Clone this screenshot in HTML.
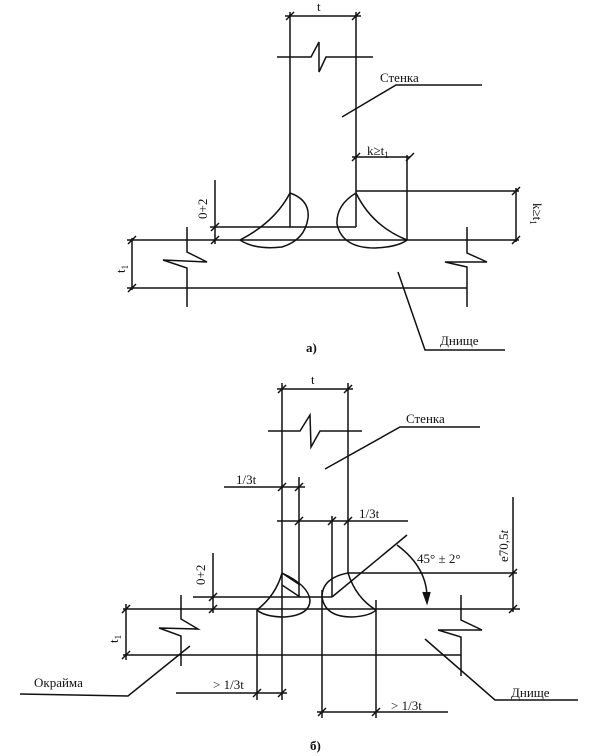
<!DOCTYPE html>
<html><head><meta charset="utf-8"><style>
html,body{margin:0;padding:0;background:#fff;}
svg{display:block;}
text{font-family:"Liberation Serif","DejaVu Serif",serif;fill:#111;font-size:13px;}
</style></head><body>
<svg width="601" height="756" viewBox="0 0 601 756" xmlns="http://www.w3.org/2000/svg">
<g stroke="#111" stroke-width="1.5" fill="none">
<!-- ===== a) ===== -->
<line x1="290" y1="12" x2="290" y2="227"/>
<line x1="356" y1="12" x2="356" y2="227"/>
<line x1="285" y1="16" x2="361" y2="16"/>
<line x1="286" y1="20" x2="294" y2="12"/><line x1="352" y1="20" x2="360" y2="12"/>
<path d="M277 57 H311 L319 42 L319 72 L326 57 H373"/>
<path d="M342 117 L396 85 H482"/>
<line x1="352" y1="157" x2="410" y2="157"/>
<line x1="352" y1="161" x2="360" y2="153"/><line x1="406" y1="161" x2="414" y2="153"/>
<line x1="407" y1="155" x2="407" y2="240"/>
<line x1="356" y1="191" x2="519" y2="191"/>
<line x1="516" y1="188" x2="516" y2="242"/>
<line x1="512" y1="195" x2="520" y2="187"/><line x1="512" y1="244" x2="520" y2="236"/>
<line x1="210" y1="227" x2="356" y2="227"/>
<line x1="127" y1="240" x2="519" y2="240"/>
<line x1="127" y1="288" x2="467" y2="288"/>
<line x1="215" y1="180" x2="215" y2="244"/>
<line x1="211" y1="231" x2="219" y2="223"/><line x1="211" y1="244" x2="219" y2="236"/>
<line x1="132" y1="238" x2="132" y2="290"/>
<line x1="128" y1="244" x2="136" y2="236"/><line x1="128" y1="292" x2="136" y2="284"/>
<path d="M290 193 Q275 222 240 240"/>
<path d="M290 193 Q310 200 308 218 Q305 240 282 247 Q255 250 240 240"/>
<path d="M356 193 Q372 226 407 240"/>
<path d="M356 193 Q336 205 337 224 Q342 248 375 248 Q398 247 407 240"/>
<path d="M187 227 V252 L207 262 L163 260 L187 268 V307"/>
<path d="M467 227 V253 L487 262 L445 262 L467 267 V307"/>
<path d="M398 272 L425 350 H505"/>

<!-- ===== б) ===== -->
<line x1="282" y1="383" x2="282" y2="700"/>
<line x1="348" y1="383" x2="348" y2="573"/>
<line x1="277" y1="389" x2="353" y2="389"/>
<line x1="278" y1="393" x2="286" y2="385"/><line x1="344" y1="393" x2="352" y2="385"/>
<path d="M268 431 H300 L310 415 L311 447 L320 431 H362"/>
<path d="M325 469 L400 427 H480"/>
<line x1="224" y1="487" x2="305" y2="487"/>
<line x1="278" y1="491" x2="286" y2="483"/><line x1="295" y1="491" x2="303" y2="483"/>
<line x1="299" y1="477" x2="299" y2="597"/>
<line x1="277" y1="521" x2="408" y2="521"/>
<line x1="295" y1="525" x2="303" y2="517"/><line x1="328" y1="525" x2="336" y2="517"/><line x1="344" y1="525" x2="352" y2="517"/>
<line x1="332" y1="516" x2="332" y2="597"/>
<line x1="193" y1="597" x2="332" y2="597"/>
<line x1="123" y1="609" x2="520" y2="609"/>
<line x1="123" y1="655" x2="461" y2="655"/>
<line x1="126" y1="604" x2="126" y2="660"/>
<line x1="122" y1="613" x2="130" y2="605"/><line x1="122" y1="659" x2="130" y2="651"/>
<line x1="213" y1="553" x2="213" y2="613"/>
<line x1="209" y1="601" x2="217" y2="593"/><line x1="209" y1="613" x2="217" y2="605"/>
<line x1="282" y1="573" x2="300" y2="585"/>
<line x1="282" y1="585" x2="300" y2="597"/>
<line x1="332" y1="597" x2="407" y2="535"/>
<line x1="348" y1="573" x2="517" y2="573"/>
<path d="M282 573 Q276 595 257 610"/>
<path d="M282 573 Q308 585 310 600 Q310 615 285 617 Q265 617 257 610"/>
<path d="M348 573 Q356 598 376 610"/>
<path d="M348 573 Q322 578 322 597 Q325 617 352 617 Q370 616 376 610"/>
<path d="M397 545 Q428 568 427 600"/>
<path d="M423 592 L427 603 L430 592" fill="#111"/>
<line x1="513" y1="497" x2="513" y2="612"/>
<line x1="509" y1="577" x2="517" y2="569"/><line x1="509" y1="613" x2="517" y2="605"/>
<line x1="257" y1="609" x2="257" y2="700"/>
<line x1="176" y1="693" x2="287" y2="693"/>
<line x1="253" y1="697" x2="261" y2="689"/><line x1="278" y1="697" x2="286" y2="689"/>
<line x1="322" y1="590" x2="322" y2="718"/>
<line x1="376" y1="600" x2="376" y2="718"/>
<line x1="317" y1="712" x2="448" y2="712"/>
<line x1="318" y1="716" x2="326" y2="708"/><line x1="372" y1="716" x2="380" y2="708"/>
<path d="M181 595 V619 L198 629 L159 628 L181 636 V666"/>
<path d="M461 595 V620 L482 630 L438 630 L461 637 V676"/>
<path d="M190 646 L128 696 L20 694"/>
<path d="M425 639 L495 700 H578"/>
</g>
<text x="317" y="11" font-size="13">t</text>
<text x="380" y="82" font-size="14">Стенка</text>
<text x="367" y="155" font-size="13">k≥t<tspan font-size="9" dy="3">1</tspan></text>
<text transform="translate(533,203) rotate(90)" font-size="13">k≥t<tspan font-size="9" dy="3">1</tspan></text>
<text transform="translate(207,219) rotate(-90)" font-size="13">0+2</text>
<text transform="translate(125,273) rotate(-90)" font-size="13">t<tspan font-size="9" dy="3">1</tspan></text>
<text x="440" y="345" font-size="14">Днище</text>
<text x="306" y="352" font-size="14" font-weight="bold">а)</text>
<text x="311" y="384" font-size="13">t</text>
<text x="406" y="423" font-size="14">Стенка</text>
<text x="236" y="484" font-size="13">1/3t</text>
<text x="359" y="518" font-size="13">1/3t</text>
<text x="417" y="563" font-size="14">45° ± 2°</text>
<text transform="translate(508,562) rotate(-90)" font-size="13">e70,5<tspan font-style="italic">t</tspan></text>
<text transform="translate(205,585) rotate(-90)" font-size="13">0+2</text>
<text transform="translate(118,643) rotate(-90)" font-size="13">t<tspan font-size="9" dy="3">1</tspan></text>
<text x="34" y="687" font-size="14">Окрайма</text>
<text x="213" y="689" font-size="13">&gt; 1/3t</text>
<text x="391" y="710" font-size="13">&gt; 1/3t</text>
<text x="511" y="697" font-size="14">Днище</text>
<text x="310" y="750" font-size="14" font-weight="bold">б)</text>
</svg>
</body></html>
